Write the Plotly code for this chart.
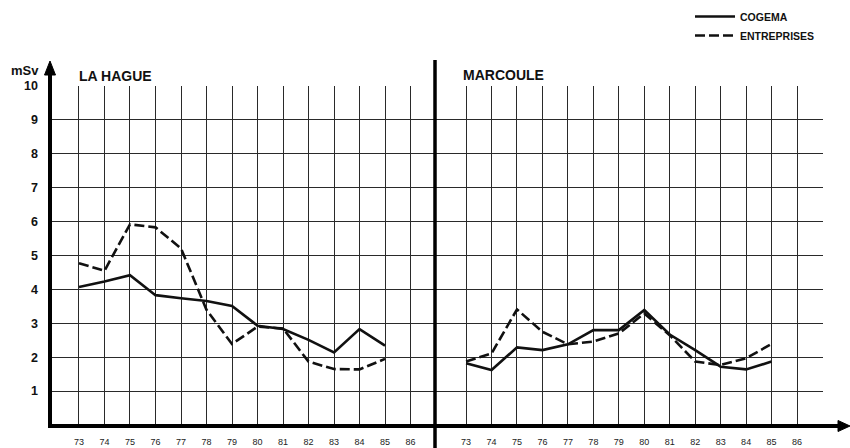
import plotly.graph_objects as go

# ---------------- data ----------------
years = [73, 74, 75, 76, 77, 78, 79, 80, 81, 82, 83, 84, 85]
tick_years = [73, 74, 75, 76, 77, 78, 79, 80, 81, 82, 83, 84, 85, 86, 87]
tick_text = ["73", "74", "75", "76", "77", "78", "79", "80", "81", "82", "83", "84", "85", "86", ""]
y_ticks = [1, 2, 3, 4, 5, 6, 7, 8, 9, 10]

lahague_cogema = [4.07, 4.23, 4.42, 3.83, 3.74, 3.66, 3.51, 2.93, 2.83, 2.51, 2.14, 2.83, 2.34]
lahague_entreprises = [4.77, 4.55, 5.92, 5.83, 5.21, 3.40, 2.39, 2.90, 2.85, 1.87, 1.65, 1.64, 1.95]
marcoule_cogema = [1.82, 1.62, 2.29, 2.21, 2.38, 2.80, 2.80, 3.39, 2.67, 2.21, 1.72, 1.64, 1.87]
marcoule_entreprises = [1.87, 2.11, 3.41, 2.75, 2.38, 2.46, 2.70, 3.29, 2.65, 1.87, 1.77, 1.97, 2.39]

panel_titles = ["LA HAGUE", "MARCOULE"]
series_names = ["COGEMA", "ENTREPRISES"]
y_unit = "mSv"

# ---------------- layout helpers ----------------
W, H = 850, 448
def px(x):
    return x / W
def py(y):
    return 1 - y / H

FONT = "Liberation Sans"
DASH = "10px,4px"
LW = 2.6

fig = go.Figure()

fig.add_trace(go.Scatter(x=years, y=lahague_cogema, mode="lines", name=series_names[0],
                         line=dict(color="#111", width=LW), xaxis="x", yaxis="y",
                         legendgroup="c"))
fig.add_trace(go.Scatter(x=years, y=lahague_entreprises, mode="lines", name=series_names[1],
                         line=dict(color="#111", width=LW, dash=DASH), xaxis="x", yaxis="y",
                         legendgroup="e"))
fig.add_trace(go.Scatter(x=years, y=marcoule_cogema, mode="lines", name=series_names[0],
                         line=dict(color="#111", width=LW), xaxis="x2", yaxis="y2",
                         legendgroup="c", showlegend=False))
fig.add_trace(go.Scatter(x=years, y=marcoule_entreprises, mode="lines", name=series_names[1],
                         line=dict(color="#111", width=LW, dash=DASH), xaxis="x2", yaxis="y2",
                         legendgroup="e", showlegend=False))

ydom = [py(425), py(86)]
grid = dict(showgrid=True, gridcolor="#2a2a2a", gridwidth=1.2, zeroline=False,
            showline=False, ticks="", automargin=False)

fig.update_layout(
    width=W, height=H,
    margin=dict(l=0, r=0, t=0, b=0),
    paper_bgcolor="white", plot_bgcolor="white",
    font=dict(family=FONT, color="#111"),
    xaxis=dict(domain=[px(50), px(436)], range=[71.863, 87.0], tickmode="array",
               tickvals=tick_years, ticktext=tick_text, anchor="y",
               tickfont=dict(size=9, color="#222"), ticklabelstandoff=10, **grid),
    xaxis2=dict(domain=[px(434), px(823)], range=[71.74, 87.02], tickmode="array",
                tickvals=tick_years, ticktext=tick_text, anchor="y2",
                tickfont=dict(size=9, color="#222"), ticklabelstandoff=10, **grid),
    yaxis=dict(domain=ydom, range=[0, 10], tickmode="array", tickvals=y_ticks,
               anchor="x", tickfont=dict(size=12.5, color="#111", weight="bold"),
               ticklabelstandoff=11, **grid),
    yaxis2=dict(domain=ydom, range=[0, 10], tickmode="array", tickvals=y_ticks,
                anchor="x2", showticklabels=False, **grid),
    legend=dict(x=px(690), y=py(2), xanchor="left", yanchor="top",
                font=dict(size=10.5, color="#111", weight="bold"),
                bgcolor="rgba(0,0,0,0)", tracegroupgap=0, itemwidth=40),
    showlegend=True,
)

shapes = []
# left y-axis (thick, with arrow)
shapes.append(dict(type="line", xref="paper", yref="paper",
                   x0=px(50), x1=px(50), y0=py(428), y1=py(72),
                   line=dict(color="black", width=4)))
shapes.append(dict(type="path", xref="paper", yref="paper",
                   path=f"M {px(44.5)} {py(75)} L {px(50)} {py(61)} L {px(55.5)} {py(75)} Z",
                   fillcolor="black", line=dict(color="black", width=1)))
# divider between panels
shapes.append(dict(type="line", xref="paper", yref="paper",
                   x0=px(435), x1=px(435), y0=py(60), y1=py(448),
                   line=dict(color="black", width=3.5)))
# x-axis (thick, with arrow)
shapes.append(dict(type="line", xref="paper", yref="paper",
                   x0=px(48), x1=px(840), y0=py(426), y1=py(426),
                   line=dict(color="black", width=4)))
shapes.append(dict(type="path", xref="paper", yref="paper",
                   path=f"M {px(838)} {py(420.5)} L {px(850)} {py(426)} L {px(838)} {py(431.5)} Z",
                   fillcolor="black", line=dict(color="black", width=1)))
fig.update_layout(shapes=shapes)

ann = []
ann.append(dict(text=f"<b>{panel_titles[0]}</b>", x=px(77), y=py(75.5), xref="paper", yref="paper",
                xanchor="left", yanchor="middle", showarrow=False,
                font=dict(size=14, family=FONT, color="#111")))
ann.append(dict(text=f"<b>{panel_titles[1]}</b>", x=px(461), y=py(75), xref="paper", yref="paper",
                xanchor="left", yanchor="middle", showarrow=False,
                font=dict(size=14, family=FONT, color="#111")))
ann.append(dict(text=f"<b>{y_unit}</b>", x=px(41), y=py(70), xref="paper", yref="paper",
                xanchor="right", yanchor="middle", showarrow=False,
                font=dict(size=13, family=FONT, color="#111")))
fig.update_layout(annotations=ann)

fig.write_html("out.html", config={"displayModeBar": False},
               post_script="document.body.style.margin='0';")
